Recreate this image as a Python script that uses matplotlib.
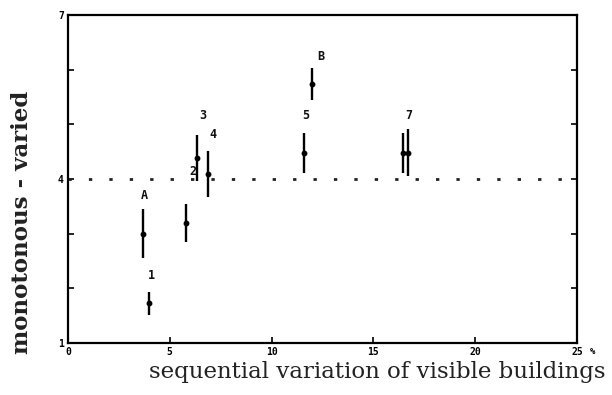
import matplotlib
matplotlib.use("Agg")
import matplotlib.pyplot as plt

# data
x_vals = [3.7, 4.0, 5.8, 6.35, 6.9, 11.6, 12.0, 16.45, 16.7]
y_vals = [3.0, 1.73, 3.2, 4.38, 4.1, 4.48, 5.74, 4.48, 4.48]
y_err = [0.45, 0.21, 0.35, 0.42, 0.42, 0.37, 0.29, 0.37, 0.43]

label_text = ["A", "1", "2", "3", "4", "5", "B", "7"]
label_x = [3.73, 4.08, 6.12, 6.63, 7.12, 11.69, 12.43, 16.75]
label_y = [3.69, 2.24, 4.13, 5.17, 4.82, 5.17, 6.25, 5.17]

ref_level = 4
x_ticks = [0, 5, 10, 15, 20, 25]
y_ticks = [1, 2, 3, 4, 5, 6, 7]
y_ticklabels = ["1", "", "", "4", "", "", "7"]

fig = plt.figure(figsize=(6.12, 3.95), dpi=100)
ax = fig.add_axes([0.111, 0.1316, 0.832, 0.8304])

ax.errorbar(x_vals, y_vals, yerr=y_err, fmt="o", color="black",
            markersize=3.2, elinewidth=1.7, capsize=0, zorder=3)
ax.axhline(ref_level, color="#222222", linewidth=2.0,
           linestyle=(0, (1.2, 6.15)), zorder=2)

for t, lx, ly in zip(label_text, label_x, label_y):
    ax.text(lx, ly, t, ha="center", va="center", fontsize=8.5,
            fontweight="bold", family="DejaVu Sans Mono", color="#111111")

ax.set_xlim(0, 25)
ax.set_ylim(1, 7)
ax.set_xticks(x_ticks)
ax.set_xticklabels([str(v) for v in x_ticks])
ax.set_yticks(y_ticks)
ax.set_yticklabels(y_ticklabels)
ax.tick_params(direction="in", length=4, width=1.2, labelsize=7,
               right=True, top=False, pad=3)
for lab in ax.get_xticklabels() + ax.get_yticklabels():
    lab.set_family("DejaVu Sans Mono")
    lab.set_fontweight("bold")
ax.text(1.03, -0.027, "%", transform=ax.transAxes, fontsize=6.5,
        family="DejaVu Sans Mono", fontweight="bold", ha="center", va="center")

for s in ax.spines.values():
    s.set_linewidth(1.6)

ax.set_xlabel("sequential variation of visible buildings", family="DejaVu Serif",
              fontsize=16.5, color="#222222")
ax.xaxis.set_label_coords(0.607, -0.056)
ax.set_ylabel("monotonous - varied", family="DejaVu Serif", fontsize=16.5,
              fontweight="bold", color="#222222")
ax.yaxis.set_label_coords(-0.069, 0.369)

fig.savefig("out.png", dpi=100)
